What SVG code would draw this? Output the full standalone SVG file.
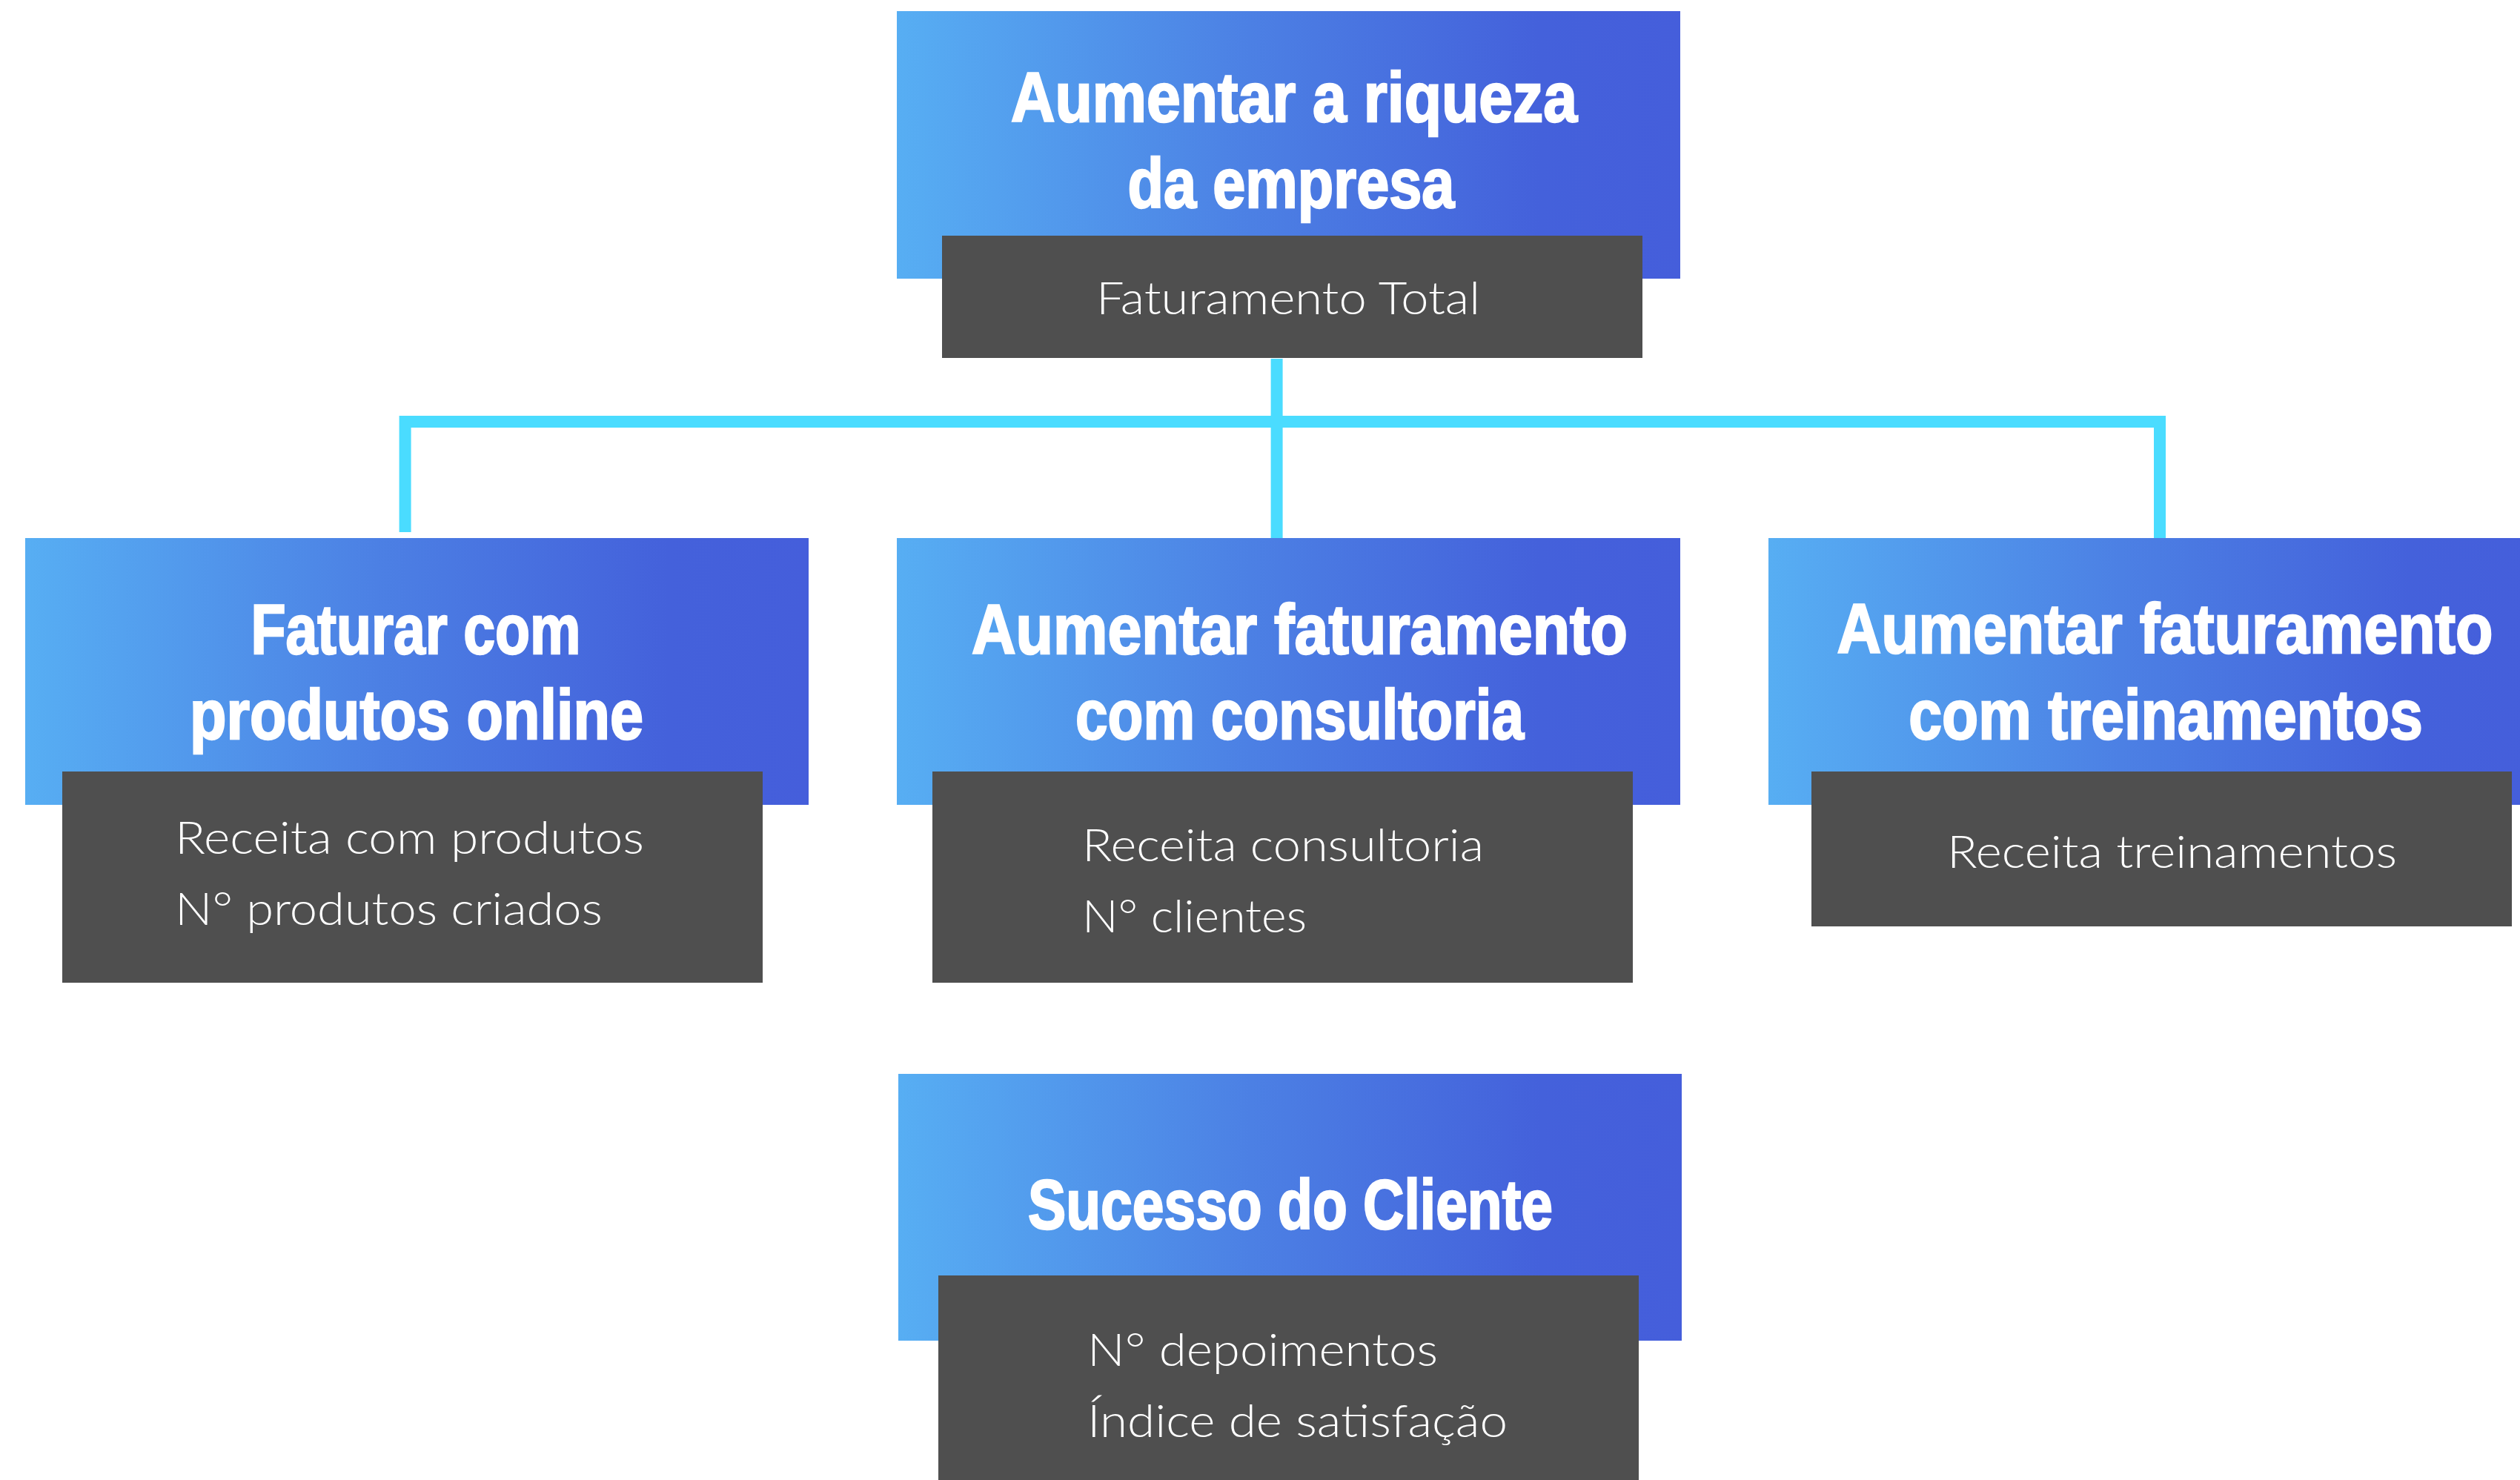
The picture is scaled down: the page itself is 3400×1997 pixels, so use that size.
<svg xmlns="http://www.w3.org/2000/svg" width="3400" height="1997" viewBox="0 0 3400 1997">
<defs>
<linearGradient id="g" x1="0" y1="0" x2="1" y2="0">
<stop offset="0" stop-color="#57AEF3"/>
<stop offset="0.45" stop-color="#4C80E4"/>
<stop offset="0.82" stop-color="#4461DB"/>
<stop offset="1" stop-color="#455EDB"/>
</linearGradient>
<style>
.hd{fill:url(#g)}
.mt{fill:#4F4F4F}
.t{font-family:"Liberation Sans",Arial,sans-serif;font-weight:700;font-size:94px;fill:#fff;stroke:#fff;stroke-width:2.5;text-anchor:middle}
.m{font-family:Lato,"Liberation Sans",sans-serif;font-weight:300;font-size:62px;fill:#fff}
.c{text-anchor:middle}
.ln{fill:none;stroke:#4ADCFF;stroke-width:16;stroke-linejoin:miter}
</style>
</defs>
<rect width="3400" height="1997" fill="#fff"/>
<g id="connectors">
<path class="ln" d="M546.6,718 V569 H2914 V726"/>
<path class="ln" d="M1722.6,484 V726"/>
</g>
<g id="n-top">
<rect class="hd" x="1210" y="15" width="1057" height="361"/>
<text class="t" x="1746" y="164" textLength="764" lengthAdjust="spacingAndGlyphs">Aumentar a riqueza</text>
<text class="t" x="1742" y="280" textLength="441" lengthAdjust="spacingAndGlyphs">da empresa</text>
<rect class="mt" x="1271" y="318" width="945" height="165"/>
<text class="m c" x="1738" y="424" textLength="518" lengthAdjust="spacingAndGlyphs">Faturamento Total</text>
</g>
<g id="n-produtos">
<rect class="hd" x="34" y="726" width="1057" height="360"/>
<text class="t" x="561" y="882" textLength="445" lengthAdjust="spacingAndGlyphs">Faturar com</text>
<text class="t" x="562" y="997" textLength="612" lengthAdjust="spacingAndGlyphs">produtos online</text>
<rect class="mt" x="84" y="1041" width="945" height="285"/>
<text class="m" x="236" y="1152" textLength="633" lengthAdjust="spacingAndGlyphs">Receita com produtos</text>
<text class="m" x="236" y="1248" textLength="577" lengthAdjust="spacingAndGlyphs">N° produtos criados</text>
</g>
<g id="n-consultoria">
<rect class="hd" x="1210" y="726" width="1057" height="360"/>
<text class="t" x="1753.5" y="882" textLength="885" lengthAdjust="spacingAndGlyphs">Aumentar faturamento</text>
<text class="t" x="1753.5" y="997" textLength="605" lengthAdjust="spacingAndGlyphs">com consultoria</text>
<rect class="mt" x="1258" y="1041" width="945" height="285"/>
<text class="m" x="1460" y="1162" textLength="542" lengthAdjust="spacingAndGlyphs">Receita consultoria</text>
<text class="m" x="1460" y="1258" textLength="303" lengthAdjust="spacingAndGlyphs">N° clientes</text>
</g>
<g id="n-treinamentos">
<rect class="hd" x="2386" y="726" width="1057" height="360"/>
<text class="t" transform="translate(2921,0) scale(0.8,1)" x="0" y="881" textLength="1106" lengthAdjust="spacingAndGlyphs">Aumentar faturamento</text>
<text class="t" transform="translate(2922,0) scale(0.8,1)" x="0" y="997" textLength="867" lengthAdjust="spacingAndGlyphs">com treinamentos</text>
<rect class="mt" x="2444" y="1041" width="945" height="209"/>
<text class="m c" x="2930.5" y="1171" textLength="607" lengthAdjust="spacingAndGlyphs">Receita treinamentos</text>
</g>
<g id="n-sucesso">
<rect class="hd" x="1212" y="1449" width="1057" height="360"/>
<text class="t" x="1741" y="1658" textLength="708" lengthAdjust="spacingAndGlyphs">Sucesso do Cliente</text>
<rect class="mt" x="1266" y="1721" width="945" height="280"/>
<text class="m" x="1467" y="1843" textLength="473" lengthAdjust="spacingAndGlyphs">N° depoimentos</text>
<text class="m" x="1467" y="1939" textLength="567" lengthAdjust="spacingAndGlyphs">Índice de satisfação</text>
</g>
</svg>
